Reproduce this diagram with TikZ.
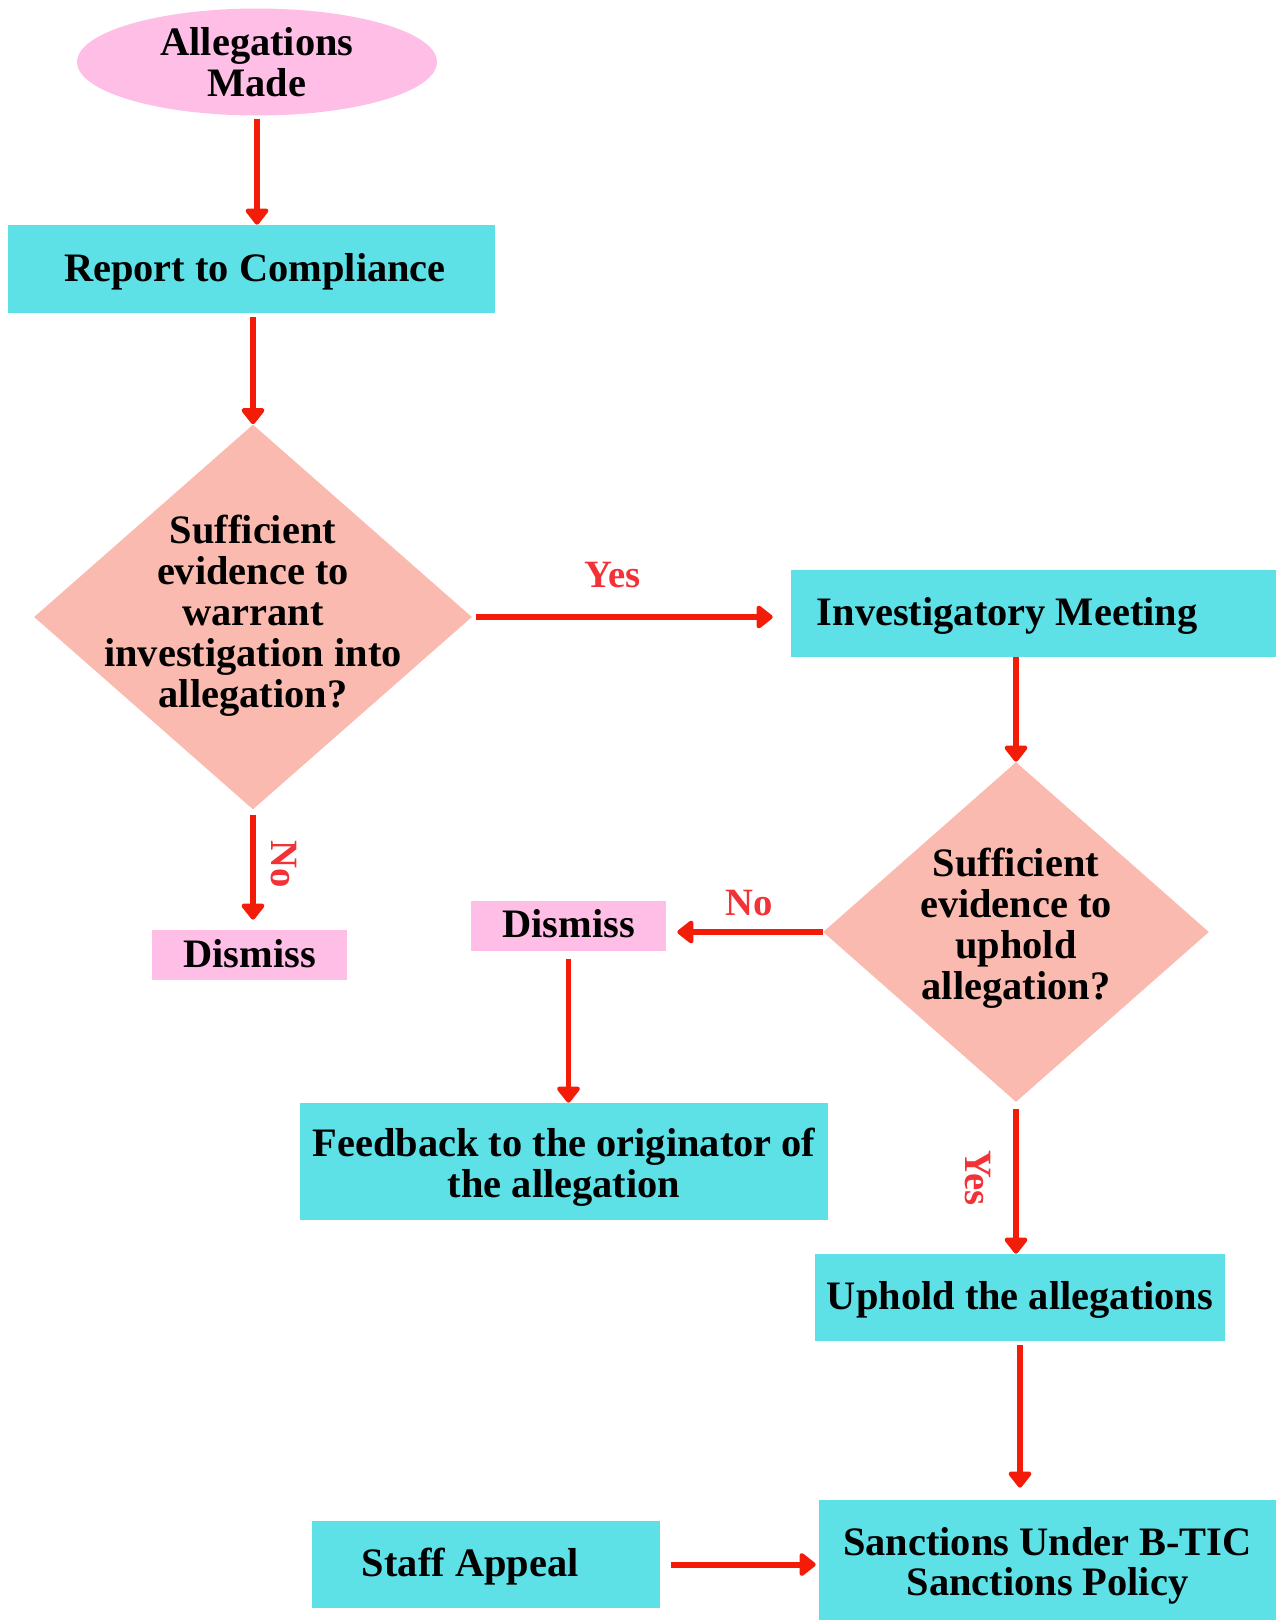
\documentclass[tikz,border=0pt]{standalone}
\usepackage{fontspec}
\setmainfont{Liberation Serif}
\usepackage{tikz}
\usetikzlibrary{shapes.geometric}
\usetikzlibrary{arrows.meta}
\usetikzlibrary{calc}
\definecolor{blush}{RGB}{255, 190, 230}
\definecolor{aqua}{RGB}{93, 224, 230}
\definecolor{salmon}{RGB}{251, 186, 175}
\definecolor{arrowred}{RGB}{242, 28, 8}
\definecolor{labelred}{RGB}{242, 50, 55}

\begin{document}
\begin{tikzpicture}[x=0.02cm, y=-0.02cm,
        font=\fontsize{23}{23.3}\selectfont\bfseries,
        oneline/.style={text height=16.1pt, text depth=2pt},
        twoline/.style={text height=42.9pt, text depth=2pt},
        box/.style={rectangle, fill=aqua, inner sep=0pt, align=center},
        dismissbox/.style={rectangle, fill=blush, inner sep=0pt, minimum width=3.9cm, minimum height=1.0cm, oneline},
        decision/.style={diamond, fill=salmon, inner sep=0pt},
        flowarrow/.style={-{Triangle[round, length=10pt, width=15pt]}, color=arrowred, line width=3.4pt},
        branch/.style={color=labelred, font=\fontsize{22}{22}\selectfont\bfseries}]
            % Frame to fix the page size:
            \useasboundingbox                                                 (   0,    0) rectangle (1276, 1620);
            % Start & report
            \node[ellipse, fill=blush, minimum width=7.2cm, minimum height=2.14cm,
                  label={[align=center]center:{Allegations\\Made}}]     (allg)   at ( 257,   62) {};
            \node[box, oneline, minimum width=9.74cm, minimum height=1.76cm] (rep) at ( 251.5, 269) {\hspace*{0.14cm}Report to Compliance};
            % First decision
            \node[decision, minimum width=8.76cm, minimum height=7.7cm,
                  label={[align=center, yshift=0.03cm]center:{Sufficient\\evidence to\\warrant\\investigation into\\allegation?}}]
                                                                        (suff)   at ( 253,  617) {};
            \node[dismissbox]                                           (dis1)   at ( 249.5, 955) {Dismiss};
            \node[box, minimum width=9.7cm, minimum height=1.74cm,
                  label={[anchor=west, xshift=0.4cm, oneline]west:{Investigatory Meeting}}]
                                                                        (inv)    at (1033.5, 613.5) {};
            % Second decision
            \node[decision, minimum width=7.72cm, minimum height=6.8cm,
                  label={[align=center, yshift=0.08cm]center:{Sufficient\\evidence to\\uphold\\allegation?}}]
                                                                        (upd)    at (1016,  932) {};
            \node[dismissbox]                                           (dis2)   at ( 568.5, 925.5) {Dismiss};
            \node[box, twoline, minimum width=10.56cm, minimum height=2.34cm] (feed) at ( 564, 1161.5) {Feedback to the originator of\\the allegation};
            \node[box, oneline, minimum width=8.2cm, minimum height=1.74cm]  (uph)  at (1020, 1297.5) {Uphold the allegations};
            % Sanctions & appeal
            \node[box, twoline, minimum width=9.14cm, minimum height=2.4cm]  (sanc) at (1047.5, 1560) {Sanctions Under B-TIC\\Sanctions Policy};
            \node[box, minimum width=6.96cm, minimum height=1.74cm,
                  label={[anchor=west, xshift=0.88cm, oneline]west:{Staff Appeal}}]
                                                                        (appeal) at ( 486, 1564.5) {};
            % Connectors
            \draw[flowarrow, shorten <=0.06cm]                (allg.south) -- (allg.south |- rep.north);
            \draw[flowarrow, shorten <=0.08cm]                (suff.north |- rep.south) -- (suff.north);
            \draw[flowarrow, shorten <=0.08cm, shorten >=0.36cm] (suff.east) -- node[branch, pos=0.44, yshift=0.84cm] (yes1) {Yes}
                                                              (suff.east -| inv.west);
            \draw[flowarrow, shorten <=0.1cm, shorten >=0.2cm] (suff.south) -- node[branch, pos=0.45, xshift=0.62cm, rotate=-90] (no1) {No}
                                                              (suff.south |- dis1.north);
            \draw[flowarrow]                                  (upd.north |- inv.south) -- (upd.north);
            \draw[flowarrow, shorten >=0.22cm]                (upd.west) -- node[branch, pos=0.47, yshift=0.58cm] (no2) {No}
                                                              (upd.west -| dis2.east);
            \draw[flowarrow, shorten <=0.16cm]                (dis2.south) -- (dis2.south |- feed.north);
            \draw[flowarrow, shorten <=0.14cm]                (upd.south) -- node[branch, pos=0.5, xshift=-0.76cm, rotate=-90] (yes2) {Yes}
                                                              (upd.south |- uph.north);
            \draw[flowarrow, shorten <=0.08cm, shorten >=0.24cm] (uph.south) -- (uph.south |- sanc.north);
            \draw[flowarrow, shorten <=0.22cm, shorten >=0.06cm] (appeal.east) -- (appeal.east -| sanc.west);
\end{tikzpicture}
\end{document}
